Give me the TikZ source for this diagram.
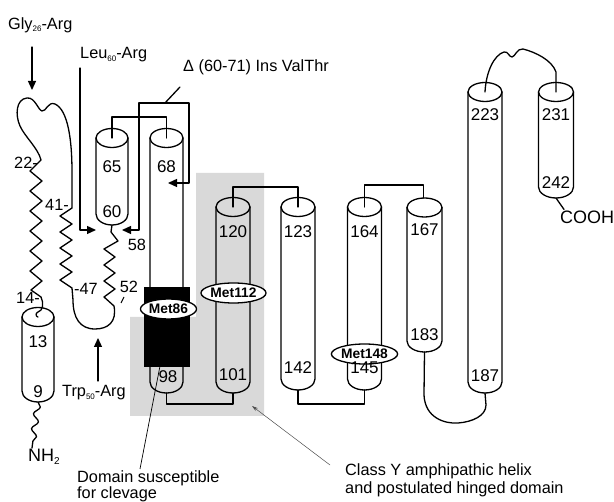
\documentclass[tikz,border=0pt]{standalone}
\usepackage{fontspec}
\setmainfont{Liberation Sans}
\usetikzlibrary{arrows.meta,shapes.geometric,decorations.pathmorphing}
\newcommand\subn[1]{\raisebox{-2.5pt}{\fontsize{8}{8}\selectfont #1}}
\newcommand\helix[5]{%
  \draw[ln] ({#2-#5},#3) -- ({#2-#5},{#4-11}) arc[start angle=180,end angle=0,x radius=#5,y radius=11] -- ({#2+#5},#3);
  \draw[ln] (#2,#3) ellipse[x radius=#5,y radius=9.5];
  \coordinate (#1t) at (#2,#3);
  \coordinate (#1b) at (#2,#4);}
\begin{document}
\begin{tikzpicture}[x=1pt,y=-1pt,
  ln/.style={line width=1.3pt,line join=round,line cap=round},
  tri/.style={-{Triangle[length=9pt,width=8pt]}},
  met/.style={ellipse,draw,line width=1.3pt,fill=white,minimum width=56pt,minimum height=20pt,inner sep=0pt,font=\fontsize{13.8}{14}\selectfont\bfseries},
  lab/.style={inner sep=0pt,font=\fontsize{16.3}{16}\selectfont},
  num/.style={inner sep=0pt,font=\fontsize{17}{17}\selectfont}]
\useasboundingbox (0,0) rectangle (614,502);
% shaded hinge domain
\fill[gray!30] (196,173) -- (264,173) -- (264,416) -- (130,416) -- (130,317) -- (196,317) -- cycle;
% helices
\helix{h13}{38}{317}{402}{16}
\helix{h65}{112}{138}{225}{16}
\helix{h68}{166.5}{138}{393}{16.5}
\helix{h120}{233}{207}{393}{17}
\helix{h123}{298}{207}{390}{17}
\helix{h164}{364.5}{207}{390}{17}
\helix{h167}{424.5}{207.5}{352}{17.5}
\helix{h223}{485}{92}{393}{17}
\helix{h231}{556}{92}{198}{17.5}
\fill[black] (144,287) rectangle (190,367);
\node[met] (m86) at (168.5,309) {Met86};
\node[met] (m112) at (233.5,293) {Met112};
\node[met] (m148) at (364.5,354) {Met148};
% numbers
\node[num] (n13) at (38,342) {13};
\node[num] (n9) at (38,392) {9};
\node[num] (n65) at (112,167) {65};
\node[num] (n60) at (112,212) {60};
\node[num] (n68) at (166.5,167) {68};
\node[num] (n98) at (168,377) {98};
\node[num] (n120) at (233,232) {120};
\node[num] (n101) at (233,375) {101};
\node[num] (n123) at (298,232) {123};
\node[num] (n142) at (298,368) {142};
\node[num] (n164) at (364.5,232) {164};
\node[num] (n145) at (364.5,368) {145};
\node[num] (n167) at (424.5,230) {167};
\node[num] (n183) at (424.5,335) {183};
\node[num] (n223) at (485,115) {223};
\node[num] (n187) at (485,376) {187};
\node[num] (n231) at (556,115) {231};
\node[num] (n242) at (556,183) {242};
% loop connectors
\draw[ln] (h65t) -- ++(0,-21) -| (h68t);
\draw[ln] (h68b) -- ++(0,11) -| (h120b);
\draw[ln] (h120t) -- ++(0,-20) -| (h123t);
\draw[ln] (h123b) -- ++(0,14) -| (h164b);
\coordinate (h167e) at (423.5,198);
\draw[ln] (h164t) -- ++(0,-22) -| (h167e);
\draw[ln] (h167b) -- (424,395) .. controls (425,418) and (445,424) .. (458,423) .. controls (472,422) and (486,416) .. (486,405) -- (h223b);
\draw[ln] (h223t) .. controls (486,72) and (494,55) .. (504,52) .. controls (508,51) and (509,57) .. (512,57) .. controls (515,57) and (517,48) .. (523,49) .. controls (535,52) and (552,60) .. (556,72) -- (h231t);
\node[lab,anchor=west,font=\fontsize{18}{18}\selectfont] (cooh) at (560,217) {COOH};
\draw[ln] (h231b) -- ([xshift=4pt,yshift=1pt]cooh.north west);
% N-terminal chain
\draw[ln] (h65b) -- (111,232) -- (118,241) -- (104,249) -- (115,257) -- (104,265) -- (115,273) -- (104,281) -- (115,289) -- (104,297) -- (114,306)
  .. controls (117,322) and (108,329) .. (95,329) .. controls (80,329) and (73,318) .. (73,300) -- (72,288)
  -- (60,280) -- (72,272) -- (60,264) -- (72,256) -- (60,248) -- (72,240) -- (60,232) -- (72,224) -- (60,216) -- (72,208)
  -- (72,172) .. controls (72,140) and (68,110) .. (55,104) .. controls (48,101) and (46,112) .. (42,111) .. controls (38,110) and (35,97) .. (27,98) .. controls (16,99) and (15,115) .. (20,126) .. controls (25,137) and (38,148) .. (41,160)
  -- (30,171) -- (42,181) -- (30,191) -- (42,201) -- (30,211) -- (42,221) -- (30,231) -- (42,241) -- (30,251) -- (42,261) -- (30,271) -- (42,281) -- (31,290) -- (41,297)
  .. controls (44,303) and (43,311) .. (38,312) .. controls (35,313) and (36,317) .. (h13t);
\node[lab,anchor=west,font=\fontsize{18}{18}\selectfont] (nh2) at (28,457) {NH\raisebox{-3pt}{\fontsize{10}{10}\selectfont 2}};
\draw[ln,decorate,decoration={snake,segment length=15pt,amplitude=3pt}] (h13b) -- ([xshift=4pt,yshift=1pt]nh2.north west);
% residue labels on chain
\node[lab,anchor=east] (l22) at (38,163) {22-};
\node[lab,anchor=east] (l41) at (69,205) {41-};
\node[lab,anchor=east] (l14) at (40,298) {14-};
\node[lab,anchor=west] (l47) at (74,289) {-47};
\node[lab] (l52) at (129,287) {52};
\node[lab] (l58) at (137,245) {58};
\coordinate (t52a) at (124,297);
\coordinate (t52b) at (121,303);
\draw[line width=1pt] (t52a) -- (t52b);
% mutation labels and arrows
\node[lab,anchor=west] (gly) at (8,25) {Gly\subn{26}-Arg};
\node[lab,anchor=west] (leu) at (80,55) {Leu\subn{60}-Arg};
\node[lab,anchor=west] (del) at (183,67) {Δ (60-71) Ins ValThr};
\node[lab,anchor=west] (trp) at (62,393) {Trp\subn{50}-Arg};
\coordinate (glyt) at (32,47);
\coordinate (glyh) at (32,90);
\draw[ln,tri] (glyt) -- (glyh);
\coordinate (leut) at (80,68);
\coordinate (a60l) at (96,230);
\draw[ln,tri] (leut) |- (a60l);
\coordinate (dtip) at (180,87);
\coordinate (bj) at (165,103);
\coordinate (bL) at (139,103);
\coordinate (bR) at (189,103);
\coordinate (a60r) at (122,230);
\coordinate (a68) at (168,183);
\draw[ln] (dtip) -- (bj);
\draw[ln,tri] (bj) -- (bL) |- (a60r);
\draw[ln,tri] (bj) -- (bR) |- (a68);
\coordinate (trpb) at (98,381);
\coordinate (trpt) at (98,338);
\draw[ln,tri] (trpb) -- (trpt);
% bottom annotations
\node[lab,anchor=north west,align=left] (dom) at (77,470) {Domain susceptible\\for clevage};
\coordinate (d98) at (160,366);
\draw[line width=0.7pt] ([xshift=63pt,yshift=1pt]dom.north west) -- (d98);
\node[lab,anchor=north west,align=left,font=\fontsize{16.3}{18}\selectfont] (cls) at (345,463) {Class Y amphipathic helix\\and postulated hinged domain};
\coordinate (gp) at (252,406);
\draw[line width=0.5pt,gray!60!black,-{Stealth[length=6pt,width=3.5pt]}] ([xshift=-15pt,yshift=-2pt]cls.north west) -- (gp);
\end{tikzpicture}
\end{document}
